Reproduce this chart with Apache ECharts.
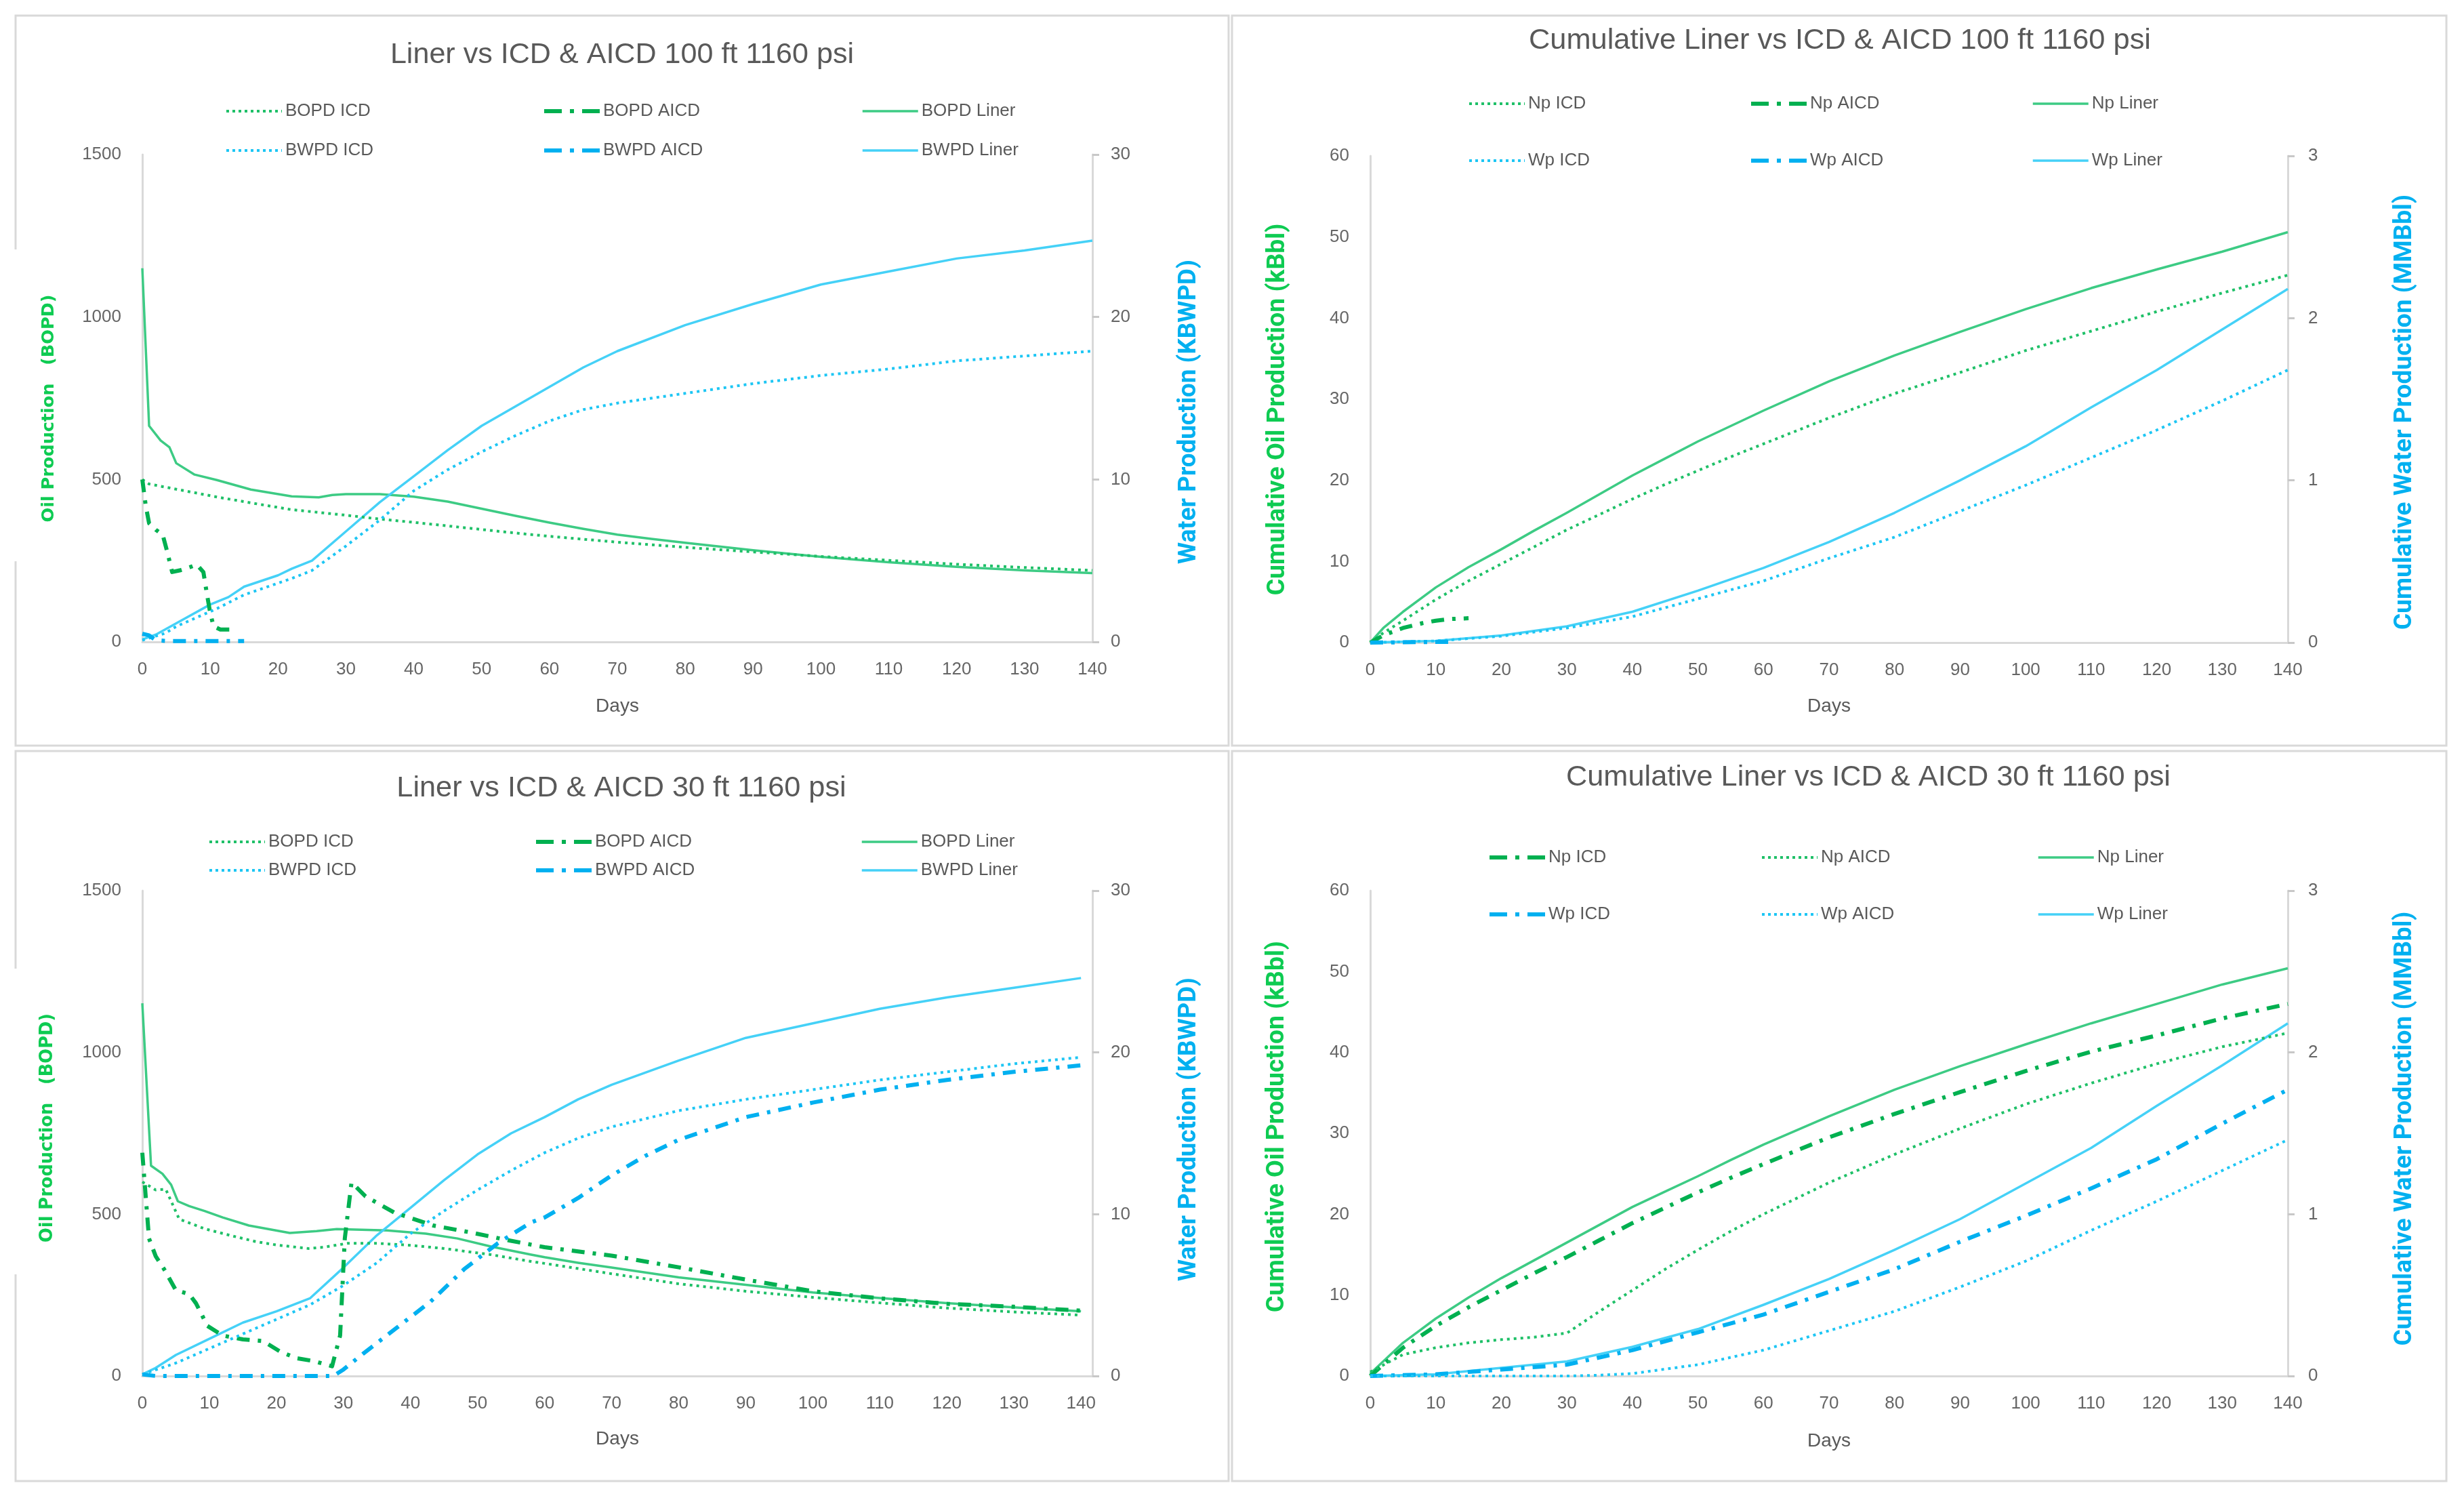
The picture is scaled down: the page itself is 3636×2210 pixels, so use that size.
<!DOCTYPE html>
<html>
<head>
<meta charset="utf-8">
<script src="https://cdn.jsdelivr.net/npm/echarts/dist/echarts.min.js"></script>
<style>
html,body{margin:0;padding:0;background:#ffffff;}
#chart{width:3636px;height:2210px;}
</style>
</head>
<body>
<div id="chart"></div>
<script>
// ---------------- DATA ----------------
const dayTicks = [0,10,20,30,40,50,60,70,80,90,100,110,120,130,140];

const titles = [
  'Liner vs ICD & AICD 100 ft 1160 psi',
  'Cumulative Liner vs ICD & AICD 100 ft 1160 psi',
  'Liner vs ICD & AICD 30 ft 1160 psi',
  'Cumulative Liner vs ICD & AICD 30 ft 1160 psi'
];
const rateLegend = ['BOPD ICD','BOPD AICD','BOPD Liner','BWPD ICD','BWPD AICD','BWPD Liner'];
const cumLegend  = ['Np ICD','Np AICD','Np Liner','Wp ICD','Wp AICD','Wp Liner'];
const axisNames = {
  oilRate: 'Oil Production   (BOPD)',
  waterRate: 'Water Production (KBWPD)',
  oilCum: 'Cumulative Oil Production (kBbl)',
  waterCum: 'Cumulative Water Production (MMBbl)',
  days: 'Days'
};

// Top-left: rates, 100 ft  (day, value)
const tlBopdIcd = [[0,500],[1,486],[5,470],[11,446],[16,428],[22,407],[30,390],[35,378],[40,368],[45,357],[50,346],[55,335],[60,325],[70,307],[80,291],[90,277],[100,263],[110,251],[120,239],[130,229],[140,220]];
const tlBopdAicd = [[0,500],[0.5,420],[1,365],[2,345],[3,330],[3.7,275],[4.4,215],[5.5,220],[7,230],[8,238],[9,215],[9.5,150],[10,90],[10.5,48],[11.5,38],[13.5,38]];
const tlBopdLiner = [[0,1150],[1,665],[2.7,620],[4,599],[5,550],[7.7,515],[11,498],[16,469],[22,448],[26,445],[28,452],[30,455],[35,455],[40,447],[45,432],[50,410],[55,388],[60,367],[65,348],[70,330],[75,317],[80,305],[90,282],[100,262],[110,245],[120,231],[130,220],[140,212]];
const tlBwpdIcd = [[0,0.1],[3.4,0.54],[5,0.95],[11,2.05],[15,2.9],[22,3.9],[25,4.4],[30,5.9],[35,7.5],[40,9.3],[45,10.6],[50,11.7],[55,12.7],[60,13.6],[65,14.3],[70,14.7],[80,15.3],[90,15.9],[100,16.4],[110,16.8],[120,17.3],[130,17.6],[140,17.9]];
const tlBwpdAicd = [[0,0.5],[1,0.4],[2,0.1],[4,0.05],[15,0.05]];
const tlBwpdLiner = [[0,0.15],[2,0.45],[6,1.38],[10,2.3],[12.7,2.76],[15,3.4],[20,4.1],[22,4.5],[25,5.0],[30,6.8],[35,8.6],[40,10.2],[45,11.8],[50,13.3],[55,14.5],[60,15.7],[65,16.9],[70,17.9],[80,19.5],[90,20.8],[100,22.0],[110,22.8],[120,23.6],[130,24.1],[140,24.7]];

// Top-right: cumulative, 100 ft
const trNpIcd = [[0,0],[2,1.2],[5,2.7],[10,5.3],[15,7.6],[20,9.7],[25,11.8],[30,13.9],[35,15.8],[40,17.7],[45,19.5],[50,21.2],[55,22.9],[60,24.5],[70,27.7],[80,30.7],[90,33.3],[100,36.0],[110,38.4],[120,40.8],[130,43.1],[140,45.3]];
const trNpAicd = [[0,0],[2,0.9],[5,1.8],[8,2.4],[10,2.7],[12,2.9],[15,3.0]];
const trNpLiner = [[0,0],[2,1.8],[5,3.8],[10,6.8],[15,9.3],[20,11.5],[25,13.8],[30,16.0],[35,18.3],[40,20.6],[45,22.7],[50,24.8],[55,26.7],[60,28.6],[70,32.2],[80,35.4],[90,38.3],[100,41.1],[110,43.7],[120,46.0],[130,48.2],[140,50.6]];
const trWpIcd = [[0,0],[10,0.01],[20,0.04],[30,0.09],[40,0.16],[50,0.27],[60,0.38],[70,0.52],[80,0.65],[90,0.81],[100,0.97],[110,1.14],[120,1.31],[130,1.49],[140,1.68]];
const trWpAicd = [[0,0],[5,0.002],[10,0.004],[13,0.005]];
const trWpLiner = [[0,0],[10,0.01],[20,0.044],[30,0.1],[40,0.19],[50,0.32],[60,0.46],[70,0.62],[80,0.8],[90,1.0],[100,1.21],[110,1.45],[120,1.68],[130,1.93],[140,2.18]];

// Bottom-left: rates, 30 ft
const blBopdIcd = [[0,600],[2,575],[3.5,577],[5.5,485],[9.3,455],[13,435],[17,415],[20,405],[24.8,394],[27,398],[30.6,410],[35,410],[40,404],[45,394],[52,375],[58,354],[60,348],[70,316],[80,285],[90,262],[100,243],[110,226],[120,210],[130,198],[140,188]];
const blBopdAicd = [[0,690],[0.6,530],[1,425],[2,370],[3.4,325],[5,265],[7,253],[8,225],[9.7,155],[12,125],[15,113],[18,108],[20.6,75],[23,55],[25.6,46],[28.3,30],[29.5,125],[30.2,425],[31.2,598],[33.3,555],[37.6,505],[43.4,465],[48.9,444],[54.7,419],[60,398],[65,385],[70,372],[80,336],[90,298],[100,262],[110,240],[120,223],[130,214],[140,202]];
const blBopdLiner = [[0,1152],[1.3,650],[3,625],[4.3,591],[5.3,540],[7,525],[9.3,510],[12,490],[15.9,465],[22,442],[26,448],[29,454],[36.5,450],[42.3,440],[47,425],[52,400],[58,375],[60,367],[65,350],[70,335],[80,305],[90,282],[100,258],[110,241],[120,225],[130,212],[140,200]];
const blBwpdIcd = [[0,0.1],[5,0.8],[10,1.7],[15,2.6],[20,3.5],[25,4.4],[30,5.6],[35,7.0],[40,8.8],[45,10.2],[50,11.5],[55,12.7],[60,13.8],[65,14.7],[70,15.4],[80,16.4],[90,17.1],[100,17.7],[110,18.3],[120,18.8],[130,19.3],[140,19.7]];
const blBwpdAicd = [[0,0.1],[2,0],[10,0],[20,0],[28.5,0],[30,0.4],[33,1.4],[38,3.0],[43,4.6],[48,6.6],[53,8.2],[58,9.5],[60,9.8],[65,11.0],[70,12.4],[75,13.6],[80,14.6],[90,16.0],[100,16.9],[110,17.7],[120,18.3],[130,18.8],[140,19.2]];
const blBwpdLiner = [[0,0.1],[2,0.5],[5,1.3],[10,2.3],[15,3.3],[20,4.0],[25,4.8],[30,6.7],[35,8.7],[40,10.4],[45,12.1],[50,13.7],[55,15.0],[60,16.0],[65,17.1],[70,18.0],[80,19.5],[90,20.9],[100,21.8],[110,22.7],[120,23.4],[130,24.0],[140,24.6]];

// Bottom-right: cumulative, 30 ft
const brNpIcd = [[0,0],[5,3.5],[10,6.2],[15,8.5],[20,10.6],[25,12.7],[30,14.7],[35,16.8],[40,18.9],[45,20.8],[50,22.7],[55,24.5],[60,26.2],[70,29.5],[80,32.4],[90,35.1],[100,37.7],[110,40.1],[120,42.1],[130,44.2],[140,46.0]];
const brNpAicd = [[0,0.5],[5,2.65],[10,3.5],[15,4.1],[20,4.5],[25,4.8],[30,5.3],[35,8.0],[40,10.6],[45,13.2],[50,15.6],[55,17.9],[60,20.0],[70,23.9],[80,27.4],[90,30.6],[100,33.6],[110,36.2],[120,38.6],[130,40.7],[140,42.4]];
const brNpLiner = [[0,0.3],[5,4.1],[10,7.1],[15,9.7],[20,12.1],[25,14.3],[30,16.5],[35,18.7],[40,20.9],[45,22.8],[50,24.7],[55,26.7],[60,28.6],[70,32.1],[80,35.4],[90,38.3],[100,41.0],[110,43.6],[120,46.0],[130,48.4],[140,50.4]];
const brWpIcd = [[0,0],[10,0.01],[20,0.04],[30,0.07],[40,0.16],[50,0.27],[60,0.38],[70,0.52],[80,0.66],[90,0.83],[100,0.99],[110,1.16],[120,1.34],[130,1.56],[140,1.77]];
const brWpAicd = [[0,0],[10,0],[20,0],[30,0],[35,0.005],[40,0.015],[50,0.07],[60,0.16],[70,0.28],[80,0.4],[90,0.55],[100,0.71],[110,0.9],[120,1.08],[130,1.27],[140,1.46]];
const brWpLiner = [[0,0],[10,0.01],[20,0.05],[30,0.09],[40,0.18],[50,0.29],[60,0.44],[70,0.6],[80,0.78],[90,0.97],[100,1.19],[110,1.41],[120,1.67],[130,1.92],[140,2.18]];

// ---------------- STYLE / LAYOUT ----------------
const FONT = "'Liberation Sans', Arial, sans-serif";
const FONT_NAME_WIDE = "'DejaVu Sans', Verdana, sans-serif";
const FONT_NAME_COND = "Roboto, 'Liberation Sans', sans-serif";
const TXT = '#595959';
const LBL = '#666666';
const AXIS = '#d9d9d9';
const GREEN_NAME = '#0ECB52';
const BLUE_NAME = '#00B0F0';
const palette = {
  oil:   {solid:'#3DCB84', dot:'#1FC068', dashdot:'#00B050'},
  water: {solid:'#45D1F7', dot:'#1DC6F4', dashdot:'#00B0F0'}
};
const strokes = {
  solid:   {width:3.5, type:'solid',        legendType:'solid'},
  dot:     {width:4,   type:[4,6],          legendType:[4,5]},
  dashdot: {width:6,   type:[19,12,5,12],   legendType:[26,12,6,12]}
};

const ctx = document.createElement('canvas').getContext('2d');
function fitSize(text, weight, family, target) {
  ctx.font = weight + ' 100px ' + family;
  return 100 * target / ctx.measureText(text).width;
}
const plainNum = v => String(v);

const panels = [
  { id:'tl', title:titles[0], titleW:684, titleC:[918,81], box:[23,23,1813,1100], gap:[368,828],
    grid:{left:210, top:228, width:1402, height:719}, xMax:140,
    yL:{max:1500, interval:500}, yR:{max:30, interval:10},
    nameL:{text:axisNames.oilRate, fam:FONT_NAME_WIDE, w:336, dist:138, dy:15},
    nameR:{text:axisNames.waterRate, fam:FONT_NAME_COND, w:449, dist:143, dy:20},
    daysDist:95, rLabelMargin:27,
    labels:rateLegend,
    series:[[tlBopdIcd,'oil','dot'],[tlBopdAicd,'oil','dashdot'],[tlBopdLiner,'oil','solid'],
            [tlBwpdIcd,'water','dot'],[tlBwpdAicd,'water','dashdot'],[tlBwpdLiner,'water','solid']],
    legX:[332,800,1271], legY:[161,219] },
  { id:'tr', title:titles[1], titleW:919, titleC:[2715,60], box:[1818,23,3610,1100], gap:null,
    grid:{left:2022, top:230, width:1354, height:718}, xMax:140,
    yL:{max:60, interval:10}, yR:{max:3, interval:1},
    nameL:{text:axisNames.oilCum, fam:FONT_NAME_COND, w:549, dist:136, dy:15},
    nameR:{text:axisNames.waterCum, fam:FONT_NAME_COND, w:642, dist:173, dy:19},
    daysDist:94, rLabelMargin:30,
    labels:cumLegend,
    series:[[trNpIcd,'oil','dot'],[trNpAicd,'oil','dashdot'],[trNpLiner,'oil','solid'],
            [trWpIcd,'water','dot'],[trWpAicd,'water','dashdot'],[trWpLiner,'water','solid']],
    legX:[2166,2581,2998], legY:[150,234] },
  { id:'bl', title:titles[2], titleW:664, titleC:[917,1163], box:[23,1108,1813,2185], gap:[1429,1880],
    grid:{left:210, top:1314, width:1402, height:716}, xMax:141.7,
    yL:{max:1500, interval:500}, yR:{max:30, interval:10},
    nameL:{text:axisNames.oilRate, fam:FONT_NAME_WIDE, w:338, dist:140, dy:-8},
    nameR:{text:axisNames.waterRate, fam:FONT_NAME_COND, w:448, dist:143, dy:-6},
    daysDist:93, rLabelMargin:27,
    labels:rateLegend,
    series:[[blBopdIcd,'oil','dot'],[blBopdAicd,'oil','dashdot'],[blBopdLiner,'oil','solid'],
            [blBwpdIcd,'water','dot'],[blBwpdAicd,'water','dashdot'],[blBwpdLiner,'water','solid']],
    legX:[307,788,1270], legY:[1239,1281] },
  { id:'br', title:titles[3], titleW:892, titleC:[2757,1147], box:[1818,1108,3610,2185], gap:null,
    grid:{left:2022, top:1314, width:1354, height:716}, xMax:140,
    yL:{max:60, interval:10}, yR:{max:3, interval:1},
    nameL:{text:axisNames.oilCum, fam:FONT_NAME_COND, w:548, dist:137, dy:-10},
    nameR:{text:axisNames.waterCum, fam:FONT_NAME_COND, w:641, dist:173, dy:-7},
    daysDist:96, rLabelMargin:30,
    labels:cumLegend,
    series:[[brNpIcd,'oil','dashdot'],[brNpAicd,'oil','dot'],[brNpLiner,'oil','solid'],
            [brWpIcd,'water','dashdot'],[brWpAicd,'water','dot'],[brWpLiner,'water','solid']],
    legX:[2195,2598,3006], legY:[1262,1346] }
];

const option = {
  animation:false,
  backgroundColor:'#ffffff',
  grid:[], xAxis:[], yAxis:[], series:[], legend:[], graphic:[]
};

function namePad(dy) {
  // axis names are rotated 90deg; shift along the axis by dy (screen px, + = down)
  return dy >= 0 ? [0, 2*dy, 0, 0] : [0, 0, 0, -2*dy];
}

panels.forEach((p, i) => {
  const b = p.box;
  option.graphic.push({type:'rect', silent:true, z:-10,
    shape:{x:b[0], y:b[1], width:b[2]-b[0], height:b[3]-b[1]},
    style:{fill:'none', stroke:AXIS, lineWidth:3}});
  if (p.gap) {
    option.graphic.push({type:'rect', silent:true, z:-9,
      shape:{x:b[0]-4, y:p.gap[0], width:8, height:p.gap[1]-p.gap[0]},
      style:{fill:'#ffffff'}});
  }
  const ts = fitSize(p.title, 'normal', FONT, p.titleW);
  option.graphic.push({type:'text', silent:true, x:p.titleC[0], y:p.titleC[1],
    style:{text:p.title, fill:TXT, font:'normal ' + ts.toFixed(1) + 'px ' + FONT,
           align:'center', verticalAlign:'middle', textAlign:'center', textVerticalAlign:'middle'}});

  option.grid.push(Object.assign({outerBoundsMode:'none', containLabel:false}, p.grid));

  option.xAxis.push({
    gridIndex:i, type:'value', min:0, max:p.xMax, interval:10,
    name:axisNames.days, nameLocation:'middle', nameGap:p.daysDist - 14, nameMoveOverlap:false,
    nameTextStyle:{fontSize:28, lineHeight:28, color:TXT, fontFamily:FONT},
    axisLine:{show:true, onZero:false, lineStyle:{color:AXIS, width:3}},
    axisTick:{show:false}, splitLine:{show:false},
    axisLabel:{fontSize:26, color:LBL, fontFamily:FONT, margin:28,
               showMaxLabel: p.xMax === 140, showMinLabel:true,
               formatter: v => (dayTicks.indexOf(v) >= 0 ? String(v) : '')}
  });

  const nlS = fitSize(p.nameL.text, 'bold', p.nameL.fam, p.nameL.w);
  const nrS = fitSize(p.nameR.text, 'bold', p.nameR.fam, p.nameR.w);
  option.yAxis.push({
    gridIndex:i, type:'value', position:'left', min:0, max:p.yL.max, interval:p.yL.interval,
    name:p.nameL.text, nameLocation:'middle', nameGap:p.nameL.dist - nlS/2, nameMoveOverlap:false,
    nameTextStyle:{fontSize:nlS, lineHeight:nlS, fontWeight:'bold', color:GREEN_NAME,
                   fontFamily:p.nameL.fam, padding:namePad(p.nameL.dy)},
    axisLine:{show:true, lineStyle:{color:AXIS, width:3}},
    axisTick:{show:false}, splitLine:{show:false},
    axisLabel:{fontSize:26, color:LBL, fontFamily:FONT, margin:31, formatter:plainNum}
  });
  option.yAxis.push({
    gridIndex:i, type:'value', position:'right', min:0, max:p.yR.max, interval:p.yR.interval,
    name:p.nameR.text, nameLocation:'middle', nameGap:p.nameR.dist - nrS/2, nameMoveOverlap:false,
    nameTextStyle:{fontSize:nrS, lineHeight:nrS, fontWeight:'bold', color:BLUE_NAME,
                   fontFamily:p.nameR.fam, padding:namePad(p.nameR.dy)},
    axisLine:{show:true, lineStyle:{color:AXIS, width:3}},
    axisTick:{show:true, length:10, lineStyle:{color:'#c8c8c8', width:3}},
    splitLine:{show:false},
    axisLabel:{fontSize:26, color:LBL, fontFamily:FONT, margin:p.rLabelMargin, formatter:plainNum}
  });

  const keys = [];
  p.series.forEach((s, k) => {
    const key = p.id + '|' + p.labels[k];
    keys.push(key);
    const col = palette[s[1]][s[2]];
    const st = strokes[s[2]];
    option.series.push({
      type:'line', name:key, xAxisIndex:i, yAxisIndex: s[1] === 'oil' ? 2*i : 2*i+1,
      data:s[0], showSymbol:false, symbol:'none', silent:true, smooth:false,
      lineStyle:{color:col, width:st.width, type:st.type, cap:'butt', join:'round'},
      itemStyle:{color:col}, emphasis:{disabled:true}, z: s[2] === 'solid' ? 3 : 4
    });
  });

  for (let c = 0; c < 3; c++) {
    const items = [c, c+3].map(k => {
      const s = p.series[k];
      const st = strokes[s[2]];
      return {name:keys[k],
              lineStyle:{color:palette[s[1]][s[2]], width:st.width, type:st.legendType, cap:'butt', opacity:1},
              itemStyle:{color:'rgba(0,0,0,0)', opacity:0, borderWidth:0}};
    });
    option.legend.push({
      orient:'vertical', left:p.legX[c], top:p.legY[0] - 10,
      itemGap:(p.legY[1] - p.legY[0]) - 26, itemWidth:82, itemHeight:14, itemTextGap:16,
      padding:0, selectedMode:false,
      textStyle:{fontSize:26, lineHeight:26, color:TXT, fontFamily:FONT},
      formatter: n => n.split('|')[1],
      data:items
    });
  }
});

const chart = echarts.init(document.getElementById('chart'), null, {renderer:'canvas', width:3636, height:2210});
chart.setOption(option);
</script>
</body>
</html>
